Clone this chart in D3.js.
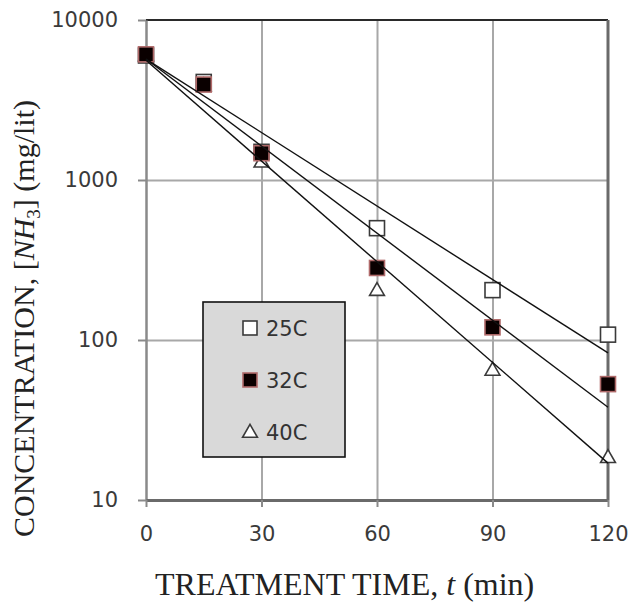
<!DOCTYPE html>
<html>
<head>
<meta charset="utf-8">
<script src="https://cdn.jsdelivr.net/npm/d3@7"></script>
<style>
  body { margin: 0; background: #fff; }
  svg { display: block; }
  .axis-title { font-family: "Liberation Serif", "DejaVu Serif", serif; font-size: 30px; fill: #222; }
  .legend-label { font-family: "DejaVu Sans", sans-serif; font-size: 21px; fill: #333; }
</style>
</head>
<body>
<div id="chart"></div>
<script>
// ── Data ─────────────────────────────────────────────────────────────────
const times = [0, 15, 30, 60, 90, 120];
const conc25 = [6000, 4100, 1500, 500, 205, 108];
const conc32 = [6100, 3950, 1470, 282, 120, 53];
const conc40 = [6000, 3900, 1300, 205, 65, 18.5];

// fitted trendlines, read at t = 0 and t = 120
const fitTimes = [0, 120];
const fit25 = [5700, 83];
const fit32 = [5700, 38];
const fit40 = [5600, 17];

const xTicks = [0, 30, 60, 90, 120];
const yTicks = [10, 100, 1000, 10000];
const seriesNames = ["25C", "32C", "40C"];

function renderChart(selector) {
  const W = 635, H = 604;
  const margin = { top: 20, right: 27, bottom: 104, left: 146 };
  const width = W - margin.left - margin.right;
  const height = H - margin.top - margin.bottom;

  const svg = d3.select(selector).append("svg")
    .attr("width", W).attr("height", H);

  const g = svg.append("g")
    .attr("transform", `translate(${margin.left},${margin.top})`);

  // ── Scales ─────────────────────────────────────────────────────────────
  const x = d3.scaleLinear().domain([0, 120]).range([0, width]);
  const y = d3.scaleLog().domain([10, 10000]).range([height, 0]);

  // ── Grid ───────────────────────────────────────────────────────────────
  g.append("g")
    .call(d3.axisLeft(y).tickValues([100, 1000]).tickSize(-width).tickFormat(""))
    .call(a => a.select(".domain").remove())
    .selectAll("line").attr("stroke", "#a8a8a8").attr("stroke-width", 2);

  g.append("g")
    .call(d3.axisBottom(x).tickValues([30, 60, 90]).tickSize(height).tickFormat(""))
    .call(a => a.select(".domain").remove())
    .selectAll("line").attr("stroke", "#a8a8a8").attr("stroke-width", 2);

  // ── Frame ──────────────────────────────────────────────────────────────
  g.append("line").attr("x1", 0).attr("x2", width).attr("y1", 0).attr("y2", 0)
    .attr("stroke", "#2a2a2a").attr("stroke-width", 2);
  g.append("line").attr("x1", width).attr("x2", width).attr("y1", 0).attr("y2", height)
    .attr("stroke", "#6a6a6a").attr("stroke-width", 3);

  // ── Axes ───────────────────────────────────────────────────────────────
  const tickFont = (sel) => sel.selectAll(".tick text")
    .style("font-family", "'DejaVu Sans', sans-serif")
    .style("font-size", "21px")
    .style("fill", "#3a3a3a");

  const yAxis = g.append("g")
    .call(d3.axisLeft(y).tickValues(yTicks).tickFormat(d3.format("d"))
      .tickSizeInner(8).tickSizeOuter(0).tickPadding(20));
  yAxis.select(".domain").attr("stroke", "#8a8a8a").attr("stroke-width", 2.5);
  yAxis.selectAll(".tick line").attr("stroke", "#8a8a8a").attr("stroke-width", 2);
  tickFont(yAxis);

  const xAxis = g.append("g")
    .attr("transform", `translate(0,${height})`)
    .call(d3.axisBottom(x).tickValues(xTicks)
      .tickSizeInner(7).tickSizeOuter(0).tickPadding(19));
  xAxis.select(".domain").attr("stroke", "#6a6a6a").attr("stroke-width", 3);
  xAxis.selectAll(".tick line").attr("stroke", "#8a8a8a").attr("stroke-width", 2);
  tickFont(xAxis);

  // ── Markers ────────────────────────────────────────────────────────────
  const sq = 15;
  const pts = (vals) => times.map((t, i) => ({ t, v: vals[i] }));

  g.selectAll(".m25").data(pts(conc25)).join("rect")
    .attr("x", d => x(d.t) - sq / 2).attr("y", d => y(d.v) - sq / 2)
    .attr("width", sq).attr("height", sq)
    .attr("fill", "#fff").attr("stroke", "#3a3a3a").attr("stroke-width", 1.6);

  const tri = d3.symbol().type(d3.symbolTriangle).size(95);
  g.selectAll(".m40").data(pts(conc40)).join("path")
    .attr("d", tri)
    .attr("transform", d => `translate(${x(d.t)},${y(d.v) + 1})`)
    .attr("fill", "#fff").attr("stroke", "#3a3a3a").attr("stroke-width", 1.6);

  g.selectAll(".m32").data(pts(conc32)).join("rect")
    .attr("x", d => x(d.t) - sq / 2).attr("y", d => y(d.v) - sq / 2)
    .attr("width", sq).attr("height", sq)
    .attr("fill", "#0a0000").attr("stroke", "#b06a6a").attr("stroke-width", 1.6);

  // ── Trendlines ─────────────────────────────────────────────────────────
  const line = d3.line().x(d => x(d.t)).y(d => y(d.v));
  [fit25, fit32, fit40].forEach(f => {
    g.append("path")
      .datum(fitTimes.map((t, i) => ({ t, v: f[i] })))
      .attr("d", line)
      .attr("fill", "none").attr("stroke", "#111").attr("stroke-width", 1.4);
  });

  // ── Legend ─────────────────────────────────────────────────────────────
  const legend = svg.append("g").attr("transform", "translate(203,302)");
  legend.append("rect").attr("width", 142).attr("height", 155)
    .attr("fill", "#d9d9d9").attr("stroke", "#111").attr("stroke-width", 1.6);

  seriesNames.forEach((name, i) => {
    const row = legend.append("g").attr("transform", `translate(47,${26 + i * 52})`);
    if (i === 0) {
      row.append("rect").attr("x", -7).attr("y", -7).attr("width", 14).attr("height", 14)
        .attr("fill", "#fff").attr("stroke", "#3a3a3a").attr("stroke-width", 1.6);
    } else if (i === 1) {
      row.append("rect").attr("x", -7).attr("y", -7).attr("width", 14).attr("height", 14)
        .attr("fill", "#0a0000").attr("stroke", "#b06a6a").attr("stroke-width", 1.6);
    } else {
      row.append("path").attr("d", tri).attr("transform", "translate(0,1)")
        .attr("fill", "#fff").attr("stroke", "#3a3a3a").attr("stroke-width", 1.6);
    }
    row.append("text").attr("class", "legend-label")
      .attr("x", 16).attr("y", 8).text(name);
  });

  // ── Axis titles ────────────────────────────────────────────────────────
  const xt = svg.append("text").attr("class", "axis-title")
    .style("font-size", "32px")
    .attr("x", 155).attr("y", 595);
  xt.append("tspan").text("TREATMENT TIME, ");
  xt.append("tspan").attr("font-style", "italic").text("t");
  xt.append("tspan").text(" (min)");

  const yt = svg.append("text").attr("class", "axis-title")
    .attr("transform", "translate(34,537) rotate(-90)");
  yt.append("tspan").text("CONCENTRATION, [");
  yt.append("tspan").attr("font-style", "italic").text("NH");
  yt.append("tspan").attr("font-size", "19px").attr("dy", 6).text("3");
  yt.append("tspan").attr("dy", -6).text("] (mg/lit)");
}

renderChart("#chart");
</script>
</body>
</html>
